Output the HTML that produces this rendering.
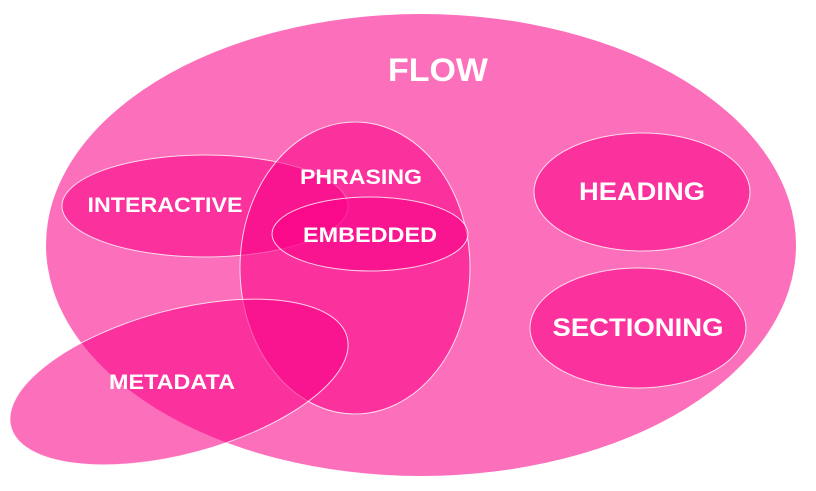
<!DOCTYPE html>
<html><head><style>
html,body{margin:0;padding:0;background:#fff;}
svg{display:block;}
text{font-family:"Liberation Sans",Arial,sans-serif;font-weight:bold;fill:#fff;text-anchor:middle;}
</style></head><body>
<svg width="816" height="491" viewBox="0 0 816 491">
<g fill="#f90086" fill-opacity="0.56" stroke="#fff" stroke-opacity="0.8" stroke-width="1">
<ellipse cx="421" cy="245" rx="375" ry="231" stroke="none"/>
<ellipse cx="205" cy="206" rx="143" ry="51"/>
<ellipse cx="355" cy="268" rx="115" ry="146"/>
<ellipse cx="370" cy="234" rx="98" ry="37"/>
<ellipse cx="642" cy="192" rx="108" ry="59"/>
<ellipse cx="638" cy="328" rx="108" ry="60"/>
<ellipse cx="179" cy="382" rx="174" ry="72" transform="rotate(-15 179 382)"/>
</g>
<text x="438" y="81" font-size="32" textLength="100" lengthAdjust="spacingAndGlyphs">FLOW</text>
<text x="165" y="212" font-size="21" textLength="155" lengthAdjust="spacingAndGlyphs">INTERACTIVE</text>
<text x="361" y="184" font-size="21" textLength="122" lengthAdjust="spacingAndGlyphs">PHRASING</text>
<text x="370" y="242" font-size="21" textLength="134" lengthAdjust="spacingAndGlyphs">EMBEDDED</text>
<text x="642" y="200" font-size="25" textLength="126" lengthAdjust="spacingAndGlyphs">HEADING</text>
<text x="638" y="336" font-size="25" textLength="171" lengthAdjust="spacingAndGlyphs">SECTIONING</text>
<text x="172" y="389" font-size="21" textLength="126" lengthAdjust="spacingAndGlyphs">METADATA</text>
</svg>
</body></html>
